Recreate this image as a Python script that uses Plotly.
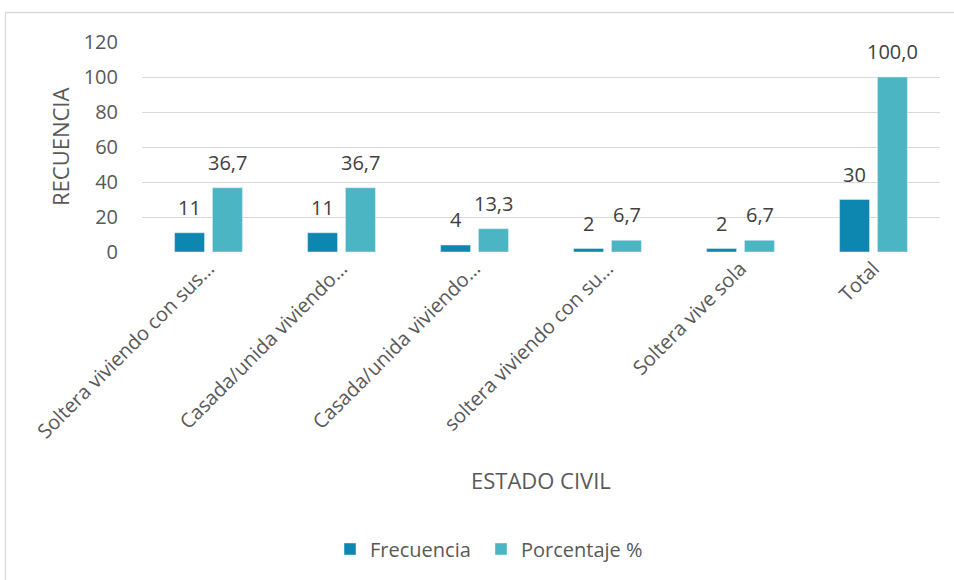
import plotly.graph_objects as go

# Estado civil de las participantes
categorias = [
    "Soltera viviendo con sus…",
    "Casada/unida viviendo…",
    "Casada/unida viviendo…",
    "soltera viviendo con su…",
    "Soltera vive sola",
    "Total",
]
frecuencia = [11, 11, 4, 2, 2, 30]
porcentaje = [36.7, 36.7, 13.3, 6.7, 6.7, 100.0]
y_ticks = [0, 20, 40, 60, 80, 100, 120]

FONT = "Open Sans"
TXT = "#595959"
LBL = "#404040"
FS = 20

# unique x keys so the repeated labels stay as separate categories
x_keys = list(range(len(categorias)))

fig = go.Figure()
fig.add_trace(go.Bar(
    name="Frecuencia", x=x_keys, y=frecuencia,
    marker=dict(color="#0E87B0"), legend="legend",
))
fig.add_trace(go.Bar(
    name="Porcentaje %", x=x_keys, y=porcentaje,
    marker=dict(color="#4BB5C4"), legend="legend2",
))

# plot-area pixel layout helpers
L, R, T, B = 142, 14, 42, 328
W, H = 954 - L - R, 580 - T - B


def px(x):
    return (x - L) / W


def py(y):
    return (580 - B - y) / H


# value labels above each bar, offset to the bar's slot within the group
annotations = []
for k, v in zip(x_keys, frecuencia):
    annotations.append(dict(x=k, y=v, xref="x", yref="y", text=str(v), showarrow=False,
                            xanchor="center", yanchor="bottom", xshift=-19, yshift=10,
                            font=dict(family=FONT, size=FS, color=LBL)))
for k, v in zip(x_keys, porcentaje):
    annotations.append(dict(x=k, y=v, xref="x", yref="y", text=f"{v:.1f}".replace(".", ","),
                            showarrow=False, xanchor="center", yanchor="bottom",
                            xshift=19, yshift=10,
                            font=dict(family=FONT, size=FS, color=LBL)))

annotations += [
    dict(text="ESTADO CIVIL", xref="paper", yref="paper", x=px(541), y=py(480),
         showarrow=False, xanchor="center", yanchor="middle",
         font=dict(family=FONT, size=22, color=TXT)),
    dict(text="RECUENCIA", xref="paper", yref="paper", x=px(60), y=py(147),
         showarrow=False, xanchor="center", yanchor="middle", textangle=-90,
         font=dict(family=FONT, size=22, color=TXT)),
]

legend_style = dict(orientation="h", xanchor="left", y=py(549), yanchor="middle",
                    font=dict(family=FONT, size=FS, color=TXT), itemwidth=30,
                    bgcolor="rgba(0,0,0,0)")

fig.update_layout(
    width=954, height=580,
    margin=dict(l=L, r=R, t=T, b=B, autoexpand=False),
    paper_bgcolor="white", plot_bgcolor="white",
    font=dict(family=FONT, size=FS, color=TXT),
    barmode="group", bargap=0.43, bargroupgap=0.21,
    showlegend=True,
    legend=dict(x=px(330), **legend_style),
    legend2=dict(x=px(481), **legend_style),
    xaxis=dict(
        tickmode="array", tickvals=x_keys, ticktext=categorias,
        tickangle=-45, showgrid=False, showline=False, zeroline=False,
        tickfont=dict(family=FONT, size=FS, color=TXT),
        range=[-0.5, len(categorias) - 0.5],
    ),
    yaxis=dict(
        range=[0, 120], tickvals=y_ticks, showline=False, zeroline=False,
        gridcolor="#D9D9D9", gridwidth=1.3,
        tickfont=dict(family=FONT, size=FS, color=TXT),
        ticklabelstandoff=23,
    ),
    shapes=[
        dict(type="rect", xref="paper", yref="paper",
             x0=px(5.5), x1=px(975), y0=py(600), y1=py(12.5),
             line=dict(color="#D9D9D9", width=1.3), fillcolor="rgba(0,0,0,0)", layer="below"),
    ],
    annotations=annotations,
)

fig.write_html("out.html")
